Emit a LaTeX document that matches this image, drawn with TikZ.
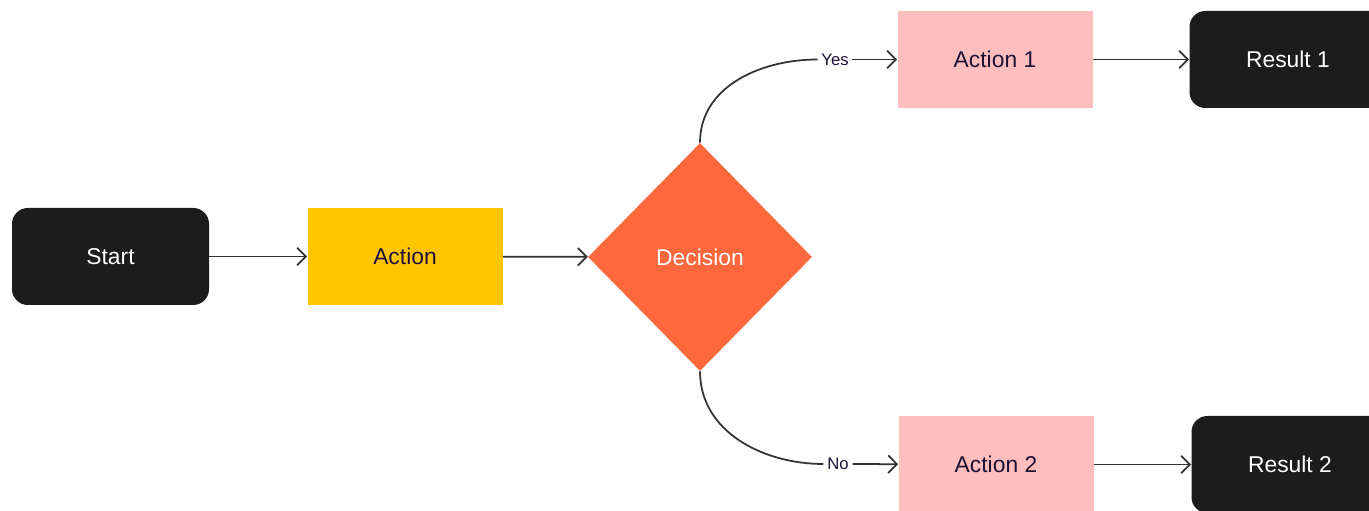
\documentclass[tikz,border=0pt]{standalone}
\usepackage{xcolor}
\usepackage{fontspec}
\setmainfont{Liberation Sans}
\usetikzlibrary{shapes.geometric, arrows.meta}

\definecolor{termblack}{HTML}{1C1C1C}
\definecolor{actyellow}{HTML}{FFC501}
\definecolor{actpink}{HTML}{FFBEBE}
\definecolor{decorange}{HTML}{FF673C}
\definecolor{inkdark}{HTML}{1D1235}
\definecolor{linegray}{HTML}{333333}

\begin{document}
\begin{tikzpicture}[
        terminal/.style={fill=termblack, text=white, rounded corners=9pt,
            minimum width=3.94cm, minimum height=1.94cm, font=\fontsize{13}{15}\selectfont},
        actbox/.style={minimum width=3.9cm, minimum height=1.94cm,
            text=inkdark, font=\fontsize{13}{15}\selectfont},
        decbox/.style={diamond, fill=decorange, text=white, inner sep=0pt,
            minimum width=4.48cm, minimum height=4.56cm, font=\fontsize{13}{15}\selectfont},
        branch/.style={text=inkdark, inner xsep=2pt, inner ysep=1pt, font=\fontsize{9.5}{11}\selectfont},
        link/.style={draw=linegray, line width=1pt},
        flow/.style={link, -{Straight Barb[length=5pt,width=10pt]}}
    ]
        \useasboundingbox (0,0) rectangle (27.38,10.22);

        \node[terminal] (start) at (2.21,5.09) {Start};
        \node[actbox, fill=actyellow] (act) at (8.10,5.09) {Action};
        \node[decbox] (dec) at (14.0,5.08) {Decision};

        \node[actbox, fill=actpink] (act1) at (19.90,9.03) {Action 1};
        \node[actbox, fill=actpink] (act2) at (19.92,0.93) {Action 2};

        \node[terminal] (res1) at (25.76,9.03) {Result 1};
        \node[terminal] (res2) at (25.80,0.93) {Result 2};

        \node[branch] (yes) at (16.70,9.03) {Yes};
        \node[branch] (no)  at (16.76,0.94) {No};

        \draw[flow] (start) -- (act);
        \draw[flow] (act) -- (dec);
        \draw[link] (dec.north) to[out=90, in=180] (yes.west);
        \draw[link] (dec.south) to[out=-90, in=180] (no.west);
        \draw[flow] (yes) -- (act1);
        \draw[flow] (no) -- (act2);
        \draw[flow] (act1) -- (res1);
        \draw[flow] (act2) -- (res2);
    \end{tikzpicture}
\end{document}
